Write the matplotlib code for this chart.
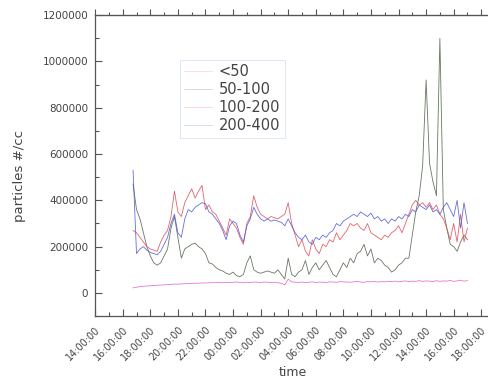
import numpy as np
import pandas as pd
import matplotlib
matplotlib.use("Agg")
import matplotlib.pyplot as plt
import matplotlib.dates as mdates

plt.rcParams['font.family'] = ['DejaVu Sans']

# readings every 15 min, starting 16:45 on day 1
start = "2000-01-01 16:45"
n_points = 98

# particle counts in thousands per size class
size_lt50 = [22, 25, 27, 29, 30, 31, 32, 33, 34, 35, 36, 37, 38, 38, 39, 40, 40, 41, 42, 42,
             43, 43, 44, 44, 45, 45, 44, 46, 45, 46, 47, 45, 44, 46, 45, 47, 46, 45, 47, 46,
             45, 46, 44, 42, 35, 60, 48, 46, 45, 47, 44, 46, 48, 45, 47, 46, 45, 48, 47, 46,
             49, 48, 47, 46, 48, 50, 47, 46, 49, 48, 50, 47, 49, 48, 50, 49, 51, 48, 50, 52,
             49, 51, 50, 53, 50, 52, 51, 49, 53, 50, 52, 51, 54, 50, 52, 55, 51, 53]
size_50_100 = [470, 360, 320, 260, 200, 160, 130, 120, 130, 160, 190, 280, 330, 240, 150, 190, 200, 210, 215, 200,
               190, 170, 130, 125, 110, 100, 95, 85, 80, 90, 75, 70, 80, 130, 160, 100, 90, 85, 90, 95,
               90, 85, 100, 80, 60, 150, 80, 70, 90, 100, 140, 80, 110, 130, 100, 120, 140, 110, 80, 70,
               100, 130, 110, 150, 130, 170, 180, 210, 160, 190, 130, 150, 140, 120, 110, 90, 100, 120, 130, 150,
               150, 250, 350, 420, 550, 920, 560, 480, 420, 1100, 360, 280, 210, 200, 180, 220, 250, 230]
size_100_200 = [270, 260, 240, 220, 200, 190, 185, 180, 220, 250, 270, 330, 440, 350, 330, 390, 420, 450, 410, 440,
                465, 360, 380, 350, 340, 310, 280, 250, 320, 300, 280, 240, 210, 300, 330, 420, 370, 340, 330, 320,
                330, 325, 320, 330, 340, 390, 300, 250, 200, 230, 180, 160, 230, 190, 170, 210, 200, 230, 220, 260,
                230, 250, 270, 300, 290, 300, 280, 270, 300, 260, 250, 240, 230, 250, 240, 260, 270, 290, 260, 300,
                340, 380, 400, 380, 390, 370, 390, 360, 380, 340, 320, 280, 230, 300, 220, 340, 220, 280]
size_200_400 = [530, 170, 190, 200, 185, 175, 170, 165, 180, 210, 240, 300, 340, 260, 240, 320, 360, 350, 370, 380,
                390, 385, 350, 340, 320, 300, 270, 230, 290, 310, 300, 250, 220, 290, 320, 370, 340, 320, 310, 320,
                310, 315, 310, 305, 290, 320, 290, 260, 240, 230, 250, 220, 210, 240, 230, 250, 240, 260, 270, 300,
                290, 310, 320, 330, 340, 330, 350, 340, 330, 345, 320, 330, 310, 320, 300, 320, 310, 330, 320, 340,
                330, 360, 350, 380, 370, 360, 380, 350, 360, 340, 370, 390, 360, 330, 400, 280, 390, 300]

series_labels = ['<50', '50-100', '100-200', '200-400']
series_colors = ['#e060d0', '#4f5f48', '#e04850', '#4a55d8']

times = pd.date_range(start, periods=n_points, freq='15min')
df = pd.DataFrame({
    '<50': size_lt50,
    '50-100': size_50_100,
    '100-200': size_100_200,
    '200-400': size_200_400,
}, index=times) * 1000

fig = plt.figure(figsize=(4.88, 3.79), dpi=100)
ax = fig.add_axes([0.195, 0.166, 0.81, 0.794])

for label, color in zip(series_labels, series_colors):
    ax.plot(df.index, df[label], color=color, lw=0.6, alpha=0.85, label=label)

text_color = '#444444'
spine_color = '#555555'

ax.set_ylim(-100000, 1200000)
ax.set_xlim(pd.Timestamp("2000-01-01 14:00"), pd.Timestamp("2000-01-02 18:40"))
ax.set_yticks(np.arange(0, 1200001, 200000))
ax.set_yticks(np.arange(-100000, 1200001, 100000), minor=True)
ax.yaxis.set_major_formatter(matplotlib.ticker.FuncFormatter(lambda v, p: f"{int(v)}"))

ax.xaxis.set_major_locator(mdates.HourLocator(byhour=range(0, 24, 2)))
ax.xaxis.set_minor_locator(mdates.HourLocator())
ax.xaxis.set_major_formatter(mdates.DateFormatter('%H:%M:%S'))

ax.tick_params(axis='y', which='major', direction='in', length=5, width=0.8,
               colors=spine_color, labelcolor=text_color, labelsize=7.5, pad=5)
ax.tick_params(axis='y', which='minor', direction='in', length=3, width=0.8, colors=spine_color)
ax.tick_params(axis='x', which='major', direction='in', length=5, width=0.8,
               colors=spine_color, labelcolor=text_color, labelsize=7, pad=6)
ax.tick_params(axis='x', which='minor', direction='in', length=3, width=0.8, colors=spine_color)

for lbl in ax.get_xticklabels():
    lbl.set_rotation(45)
    lbl.set_ha('right')
    lbl.set_rotation_mode('anchor')

# mirrored ticks on the top spine, pointing outward
top = ax.secondary_xaxis('top')
top.xaxis.set_major_locator(mdates.HourLocator(byhour=range(0, 24, 2)))
top.xaxis.set_minor_locator(mdates.HourLocator())
top.tick_params(axis='x', which='major', direction='out', length=4, width=0.8,
                colors=spine_color, labeltop=False)
top.tick_params(axis='x', which='minor', direction='out', length=2, width=0.8, colors=spine_color)
top.spines['top'].set_color(spine_color)

for side in ['left', 'bottom', 'top']:
    ax.spines[side].set_color(spine_color)
    ax.spines[side].set_linewidth(0.9)
ax.spines['right'].set_visible(False)

ax.set_xlabel('time', color=text_color, fontsize=9, labelpad=3)
ax.set_ylabel('particles #/cc', color=text_color, fontsize=9.5)
ax.yaxis.set_label_coords(-0.176, 0.465)

leg = ax.legend(loc='upper left', bbox_to_anchor=(0.195, 0.875), fontsize=10.5,
                frameon=True, fancybox=False, labelspacing=0.2, handlelength=1.9,
                handletextpad=0.5, borderpad=0.3)
leg.get_frame().set_edgecolor('#d0dcf0')
leg.get_frame().set_linewidth(0.6)
for t in leg.get_texts():
    t.set_color(text_color)
for h in leg.get_lines():
    h.set_alpha(0.25)

fig.savefig('out.png', dpi=100)
